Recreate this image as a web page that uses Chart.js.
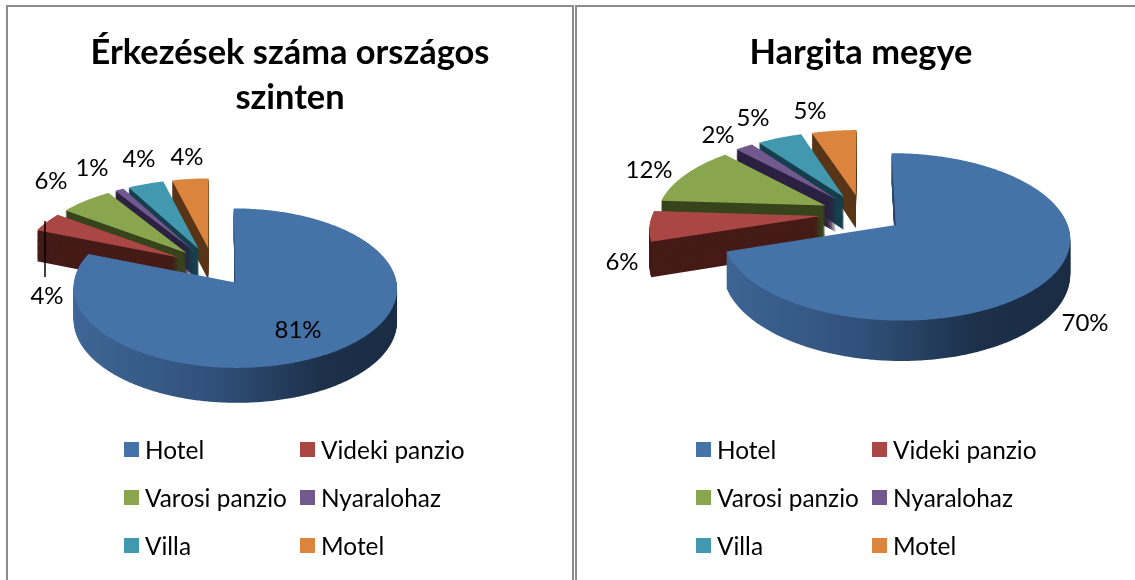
<!DOCTYPE html>
<html lang="hu">
<head>
<meta charset="utf-8">
<title>Érkezések</title>
<script src="https://cdn.jsdelivr.net/npm/chart.js@4"></script>
<style>
    html, body { margin: 0; padding: 0; width: 1135px; height: 580px; overflow: hidden; background: #fff; }
    .frame { position: absolute; top: 5px; height: 600px; border: 2px solid #8c8c8c; border-bottom: none; box-sizing: border-box; }
    canvas { position: absolute; top: 0; }
    .legend { position: absolute; top: 425px; display: grid; grid-template-columns: 176px 176px; grid-auto-rows: 48px; font: 24.4px Lato, sans-serif; color: #000; }
    .legend div { display: flex; align-items: center; white-space: nowrap; }
    .legend i { display: block; width: 15px; height: 15px; margin-right: 6px; }
</style>
</head>
<body>
<div class="frame" style="left:6px;width:568px"></div>
<div class="frame" style="left:575px;width:580px"></div>
<canvas id="chart1" width="580" height="580" style="left:0"></canvas>
<canvas id="chart2" width="578" height="580" style="left:572px"></canvas>
<div class="legend" id="legend1" style="left:124px"></div>
<div class="legend" id="legend2" style="left:696px"></div>

<script>
const categories = ['Hotel', 'Videki panzio', 'Varosi panzio', 'Nyaralohaz', 'Villa', 'Motel'];
const orszagosValues = [81, 4, 6, 1, 4, 4];
const hargitaValues = [70, 6, 12, 2, 5, 5];
const orszagosTitle = ['Érkezések száma országos', 'szinten'];
const hargitaTitle = 'Hargita megye';

const topColors = ['#4572a7', '#aa4643', '#89a54e', '#71588f', '#4198af', '#db843d'];
const wallColors = [null, '#451b18', '#37441c', '#2c2140', '#163f4d', '#593517'];
const fontName = 'Lato, sans-serif';

// a szeletek "3D" nezete: pie kozeppont, robbantas, dolesszog, perspektiva, magassag
const view1 = {
    cx: 213, cy: 266.6, radius: 159, explode: 39, tilt: 0.485, persp: 0.07, depth: 32,
    labels: [[298, 330], [47, 296], [51, 181], [92, 168], [139, 159], [187, 157]],
    leader: [45, 221, 45, 277]
};
const view2 = {
    cx: 290, cy: 213.6, radius: 168.5, explode: 41, tilt: 0.468, persp: 0.138, depth: 34,
    labels: [[513, 323], [50, 262], [77, 170], [146, 135], [181, 118], [238, 111]],
    leader: null
};

// egy pont a szeleten -> kepernyo koordinata
function project(view, midAngle, angle, rho) {
    const wx = view.explode * Math.cos(midAngle) + rho * Math.cos(angle);
    const wz = -(view.explode * Math.sin(midAngle) + rho * Math.sin(angle));
    const w = 1 + view.persp * wz / view.radius;
    return { x: view.cx + wx / w, y: view.cy - view.tilt * wz / w, w: w };
}

function traceSlice(ctx, view, arc, drop) {
    const mid = (arc.startAngle + arc.endAngle) / 2;
    const apex = project(view, mid, mid, 0);
    ctx.beginPath();
    ctx.moveTo(apex.x, apex.y + drop / apex.w);
    for (let a = arc.startAngle; a < arc.endAngle; a += 0.01) {
        const p = project(view, mid, a, arc.outerRadius);
        ctx.lineTo(p.x, p.y + drop / p.w);
    }
    const end = project(view, mid, arc.endAngle, arc.outerRadius);
    ctx.lineTo(end.x, end.y + drop / end.w);
    ctx.closePath();
}

const pie3dPlugin = {
    id: 'pie3d',
    beforeDatasetDraw(chart) {
        const ctx = chart.ctx;
        const view = chart.options.plugins.pie3d.view;
        const arcs = chart.getDatasetMeta(0).data;
        // hatulrol elore: Motel ... Videki panzio, a Hotel a vegen
        const order = arcs.map((arc, i) => i).slice(1).reverse().concat(0);

        order.forEach(i => {
            let wall = wallColors[i];
            if (!wall) {
                wall = ctx.createLinearGradient(view.cx - view.radius, 0, view.cx + view.radius + 40, 0);
                wall.addColorStop(0, '#40699a');
                wall.addColorStop(0.45, '#30507a');
                wall.addColorStop(0.75, '#1c3049');
                wall.addColorStop(1, '#1a2c44');
            }
            ctx.fillStyle = wall;
            for (let d = view.depth; d > 0; d--) {
                traceSlice(ctx, view, arcs[i], d);
                ctx.fill();
            }
            ctx.fillStyle = topColors[i];
            traceSlice(ctx, view, arcs[i], 0);
            ctx.fill();
        });
        return false;
    },
    afterDatasetsDraw(chart) {
        const ctx = chart.ctx;
        const view = chart.options.plugins.pie3d.view;
        const values = chart.data.datasets[0].data;
        if (view.leader) {
            ctx.strokeStyle = '#000';
            ctx.lineWidth = 1.5;
            ctx.beginPath();
            ctx.moveTo(view.leader[0], view.leader[1]);
            ctx.lineTo(view.leader[2], view.leader[3]);
            ctx.stroke();
        }
        ctx.fillStyle = '#000';
        ctx.font = '24px ' + fontName;
        ctx.textAlign = 'center';
        ctx.textBaseline = 'middle';
        values.forEach((value, i) => {
            ctx.fillText(value + '%', view.labels[i][0], view.labels[i][1]);
        });
    }
};

function makeChart(canvasId, title, values, view) {
    return new Chart(document.getElementById(canvasId), {
        type: 'pie',
        data: {
            labels: categories,
            datasets: [{ data: values, backgroundColor: topColors, borderWidth: 0 }]
        },
        options: {
            responsive: false,
            animation: false,
            radius: view.radius,
            layout: { padding: 0 },
            plugins: {
                legend: { display: false },
                tooltip: { enabled: false },
                title: {
                    display: true,
                    text: title,
                    color: '#000',
                    font: { family: fontName, size: 34.4, weight: 'bold', lineHeight: 1.32 },
                    padding: { top: 30, bottom: 0 }
                },
                pie3d: { view: view }
            }
        },
        plugins: [pie3dPlugin]
    });
}

function fillLegend(id) {
    const box = document.getElementById(id);
    categories.forEach((name, i) => {
        const row = document.createElement('div');
        const swatch = document.createElement('i');
        swatch.style.background = topColors[i];
        row.appendChild(swatch);
        row.appendChild(document.createTextNode(name));
        box.appendChild(row);
    });
}

makeChart('chart1', orszagosTitle, orszagosValues, view1);
makeChart('chart2', hargitaTitle, hargitaValues, view2);
fillLegend('legend1');
fillLegend('legend2');
</script>
</body>
</html>
